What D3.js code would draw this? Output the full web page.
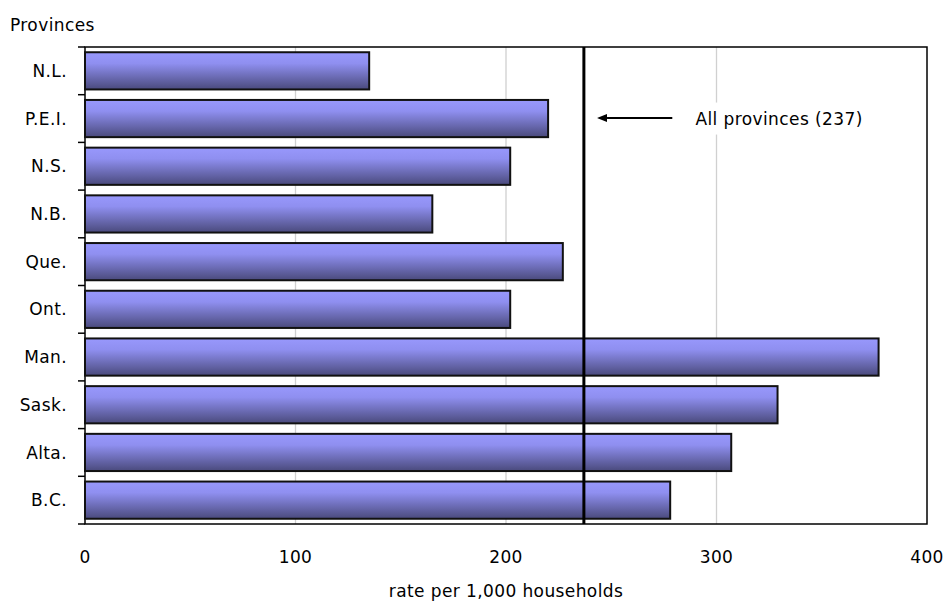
<!DOCTYPE html>
<html>
<head>
<meta charset="utf-8">
<script src="https://cdn.jsdelivr.net/npm/d3@7"></script>
<style>
  body { margin: 0; background: #fff; }
  svg text { font-family: "DejaVu Sans", Verdana, sans-serif; fill: #000; font-size: 17px; letter-spacing: 0.4px; }
</style>
</head>
<body>
<svg id="chart" width="949" height="601"></svg>
<script>
// Data
const provinces = ["N.L.", "P.E.I.", "N.S.", "N.B.", "Que.", "Ont.", "Man.", "Sask.", "Alta.", "B.C."];
const rates = [135, 220, 202, 165, 227, 202, 377, 329, 307, 278];
const allProvinces = 237;
const xTicks = [0, 100, 200, 300, 400];

const svg = d3.select("#chart");
const margin = { top: 47, right: 22, bottom: 77, left: 85 };
const width = 949 - margin.left - margin.right;
const height = 601 - margin.top - margin.bottom;

// gradient for bars
const defs = svg.append("defs");
const grad = defs.append("linearGradient")
  .attr("id", "barGrad")
  .attr("x1", 0).attr("y1", 0).attr("x2", 0).attr("y2", 1);
grad.append("stop").attr("offset", "0%").attr("stop-color", "#9898fc");
grad.append("stop").attr("offset", "30%").attr("stop-color", "#8f8ff0");
grad.append("stop").attr("offset", "100%").attr("stop-color", "#4a4a7c");

const x = d3.scaleLinear().domain([0, 400]).range([0, width]);
const y = d3.scaleBand().domain(provinces).range([0, height]).paddingInner(0.22).paddingOuter(0.11);

const g = svg.append("g").attr("transform", `translate(${margin.left},${margin.top})`);

// gridlines
g.selectAll(".grid")
  .data(xTicks.slice(1, -1))
  .enter().append("line")
  .attr("x1", d => x(d)).attr("x2", d => x(d))
  .attr("y1", 0).attr("y2", height)
  .attr("stroke", "#d0d0d0").attr("stroke-width", 1.3);

// plot border
g.append("rect")
  .attr("width", width).attr("height", height)
  .attr("fill", "none").attr("stroke", "#000").attr("stroke-width", 1.5);

// bars
g.selectAll(".bar")
  .data(rates)
  .enter().append("rect")
  .attr("x", x(0))
  .attr("y", (d, i) => y(provinces[i]))
  .attr("width", d => x(d) - x(0))
  .attr("height", y.bandwidth())
  .attr("fill", "url(#barGrad)")
  .attr("stroke", "#111").attr("stroke-width", 2);

// left tick marks at band boundaries
const step = height / provinces.length;
g.selectAll(".ytick")
  .data(d3.range(provinces.length + 1))
  .enter().append("line")
  .attr("x1", -7).attr("x2", 0)
  .attr("y1", d => d * step).attr("y2", d => d * step)
  .attr("stroke", "#000").attr("stroke-width", 1.5);

// category labels
g.selectAll(".ylab")
  .data(provinces)
  .enter().append("text")
  .attr("x", -18)
  .attr("y", d => y(d) + y.bandwidth() / 2)
  .attr("dy", "0.36em")
  .attr("text-anchor", "end")
  .text(d => d);

// x tick labels
g.selectAll(".xlab")
  .data(xTicks)
  .enter().append("text")
  .attr("x", d => x(d))
  .attr("y", height + 39)
  .attr("text-anchor", "middle")
  .text(d => d);

// reference line
g.append("line")
  .attr("x1", x(allProvinces)).attr("x2", x(allProvinces))
  .attr("y1", 0).attr("y2", height)
  .attr("stroke", "#000").attr("stroke-width", 3);

// annotation with white background
const annY = y("P.E.I.") + y.bandwidth() / 2;
g.append("rect")
  .attr("x", x(allProvinces) + 8).attr("y", annY - 16)
  .attr("width", x(393) - x(allProvinces)).attr("height", 32)
  .attr("fill", "#fff");
g.append("text")
  .attr("x", x(290))
  .attr("y", annY)
  .attr("dy", "0.36em")
  .text(`All provinces (${allProvinces})`);
defs.append("marker")
  .attr("id", "arrow")
  .attr("viewBox", "0 0 10 10")
  .attr("refX", 0).attr("refY", 5)
  .attr("markerWidth", 5).attr("markerHeight", 5)
  .attr("orient", "auto-start-reverse")
  .append("path").attr("d", "M0,1 L10,5 L0,9 Z").attr("fill", "#000");
g.append("line")
  .attr("x1", x(279)).attr("x2", x(248))
  .attr("y1", annY - 0.5).attr("y2", annY - 0.5)
  .attr("stroke", "#000").attr("stroke-width", 2)
  .attr("marker-end", "url(#arrow)");

// axis titles
svg.append("text")
  .attr("x", 10).attr("y", 31)
  .text("Provinces");
svg.append("text")
  .attr("x", margin.left + width / 2).attr("y", 597)
  .attr("text-anchor", "middle")
  .text("rate per 1,000 households");
</script>
</body>
</html>
